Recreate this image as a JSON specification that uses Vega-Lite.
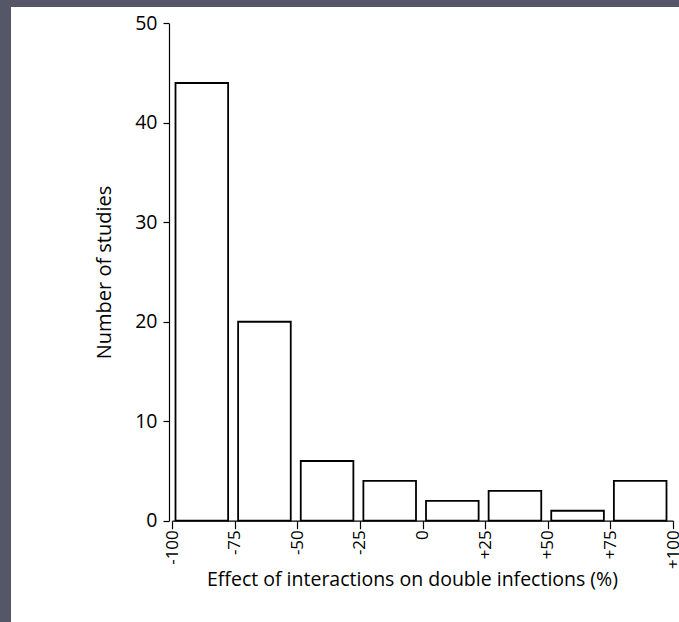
{
  "$schema": "https://vega.github.io/schema/vega-lite/v6.json",
  "width": 668,
  "height": 615,
  "autosize": {"type": "none"},
  "padding": {"left": 11, "top": 7, "right": 0, "bottom": 0},
  "background": "#555667",
  "config": {
    "view": {"fill": "white", "stroke": null},
    "font": "Open Sans",
    "axis": {
      "grid": false,
      "domainColor": "black",
      "domainWidth": 1.2,
      "tickColor": "black",
      "tickWidth": 1.2,
      "labelColor": "black",
      "titleColor": "black",
      "labelFont": "Open Sans",
      "titleFont": "Open Sans",
      "titleFontWeight": "normal"
    }
  },
  "data": {
    "values": [
      {"lo": -100, "hi": -75, "n": 44},
      {"lo": -75, "hi": -50, "n": 20},
      {"lo": -50, "hi": -25, "n": 6},
      {"lo": -25, "hi": 0, "n": 4},
      {"lo": 0, "hi": 25, "n": 2},
      {"lo": 25, "hi": 50, "n": 3},
      {"lo": 50, "hi": 75, "n": 1},
      {"lo": 75, "hi": 100, "n": 4}
    ]
  },
  "mark": {
    "type": "bar",
    "fill": "white",
    "stroke": "black",
    "strokeWidth": 1.8,
    "xOffset": 3.5,
    "x2Offset": -6.5
  },
  "encoding": {
    "x": {
      "field": "lo",
      "type": "quantitative",
      "scale": {"domain": [-100, 100], "range": [161, 662], "nice": false, "zero": false},
      "axis": {
        "orient": "bottom",
        "offset": -101.3,
        "values": [-100, -75, -50, -25, 0, 25, 50, 75, 100],
        "labelExpr": "(datum.value > 0 ? '+' : datum.value < 0 ? '-' : '') + abs(datum.value)",
        "labelAngle": -90,
        "labelAlign": "right",
        "labelBaseline": "middle",
        "labelFontSize": 17,
        "labelPadding": 1,
        "tickSize": 8,
        "title": "Effect of interactions on double infections (%)",
        "titleFontSize": 19.5,
        "titlePadding": 2,
        "titleX": 401
      }
    },
    "x2": {"field": "hi"},
    "y": {
      "field": "n",
      "type": "quantitative",
      "scale": {"domain": [0, 50], "range": [513.7, 16.3], "nice": false},
      "axis": {
        "orient": "left",
        "offset": -158,
        "values": [0, 10, 20, 30, 40, 50],
        "labelFontSize": 19.5,
        "labelPadding": 6,
        "tickSize": 6,
        "title": "Number of studies",
        "titleFontSize": 20,
        "titlePadding": 20
      }
    },
    "y2": {"datum": 0}
  }
}
